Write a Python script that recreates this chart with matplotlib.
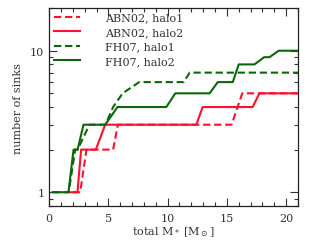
import matplotlib
matplotlib.use('Agg')
import matplotlib.pyplot as plt
from matplotlib.ticker import MultipleLocator, LogLocator, NullFormatter, FixedLocator, FixedFormatter

# step curves: total stellar mass vs number of sinks
abn_h1_x = [2.0, 2.62, 3.15, 5.4, 5.8, 15.4, 16.3, 21.0]
abn_h1_y = [1, 1, 2, 2, 3, 3, 5, 5]

abn_h2_x = [1.7, 2.39, 2.7, 3.94, 4.73, 12.42, 12.96, 17.18, 17.75, 21.0]
abn_h2_y = [1, 1, 2, 2, 3, 3, 4, 4, 5, 5]

fh_h1_x = [0.28, 1.65, 2.2, 2.4, 3.4, 4.75, 5.4, 6.2, 7.6, 11.36, 11.86, 21.0]
fh_h1_y = [1, 1, 2, 2, 3, 3, 4, 5, 6, 6, 7, 7]

fh_h2_x = [0.28, 1.63, 2.06, 2.4, 2.9, 4.73, 5.77, 9.89, 10.65, 13.55, 14.23,
           15.5, 16.0, 17.33, 18.15, 18.6, 19.38, 21.0]
fh_h2_y = [1, 1, 2, 2, 3, 3, 4, 4, 5, 5, 6, 6, 8, 8, 9, 9, 10, 10]

red = '#ff1030'
green = '#0d660d'
txt = '#333333'

plt.rcParams['font.family'] = 'DejaVu Serif'
fig = plt.figure(figsize=(3.11, 2.53), dpi=100)
ax = fig.add_axes([0.158, 0.182, 0.800, 0.782])

dash = (3.5, 1.8)
ax.plot(abn_h1_x, abn_h1_y, color=red, lw=1.5, dashes=dash, label='ABN02, halo1')
ax.plot(abn_h2_x, abn_h2_y, color=red, lw=1.5, label='ABN02, halo2')
ax.plot(fh_h1_x, fh_h1_y, color=green, lw=1.5, dashes=dash, label='FH07, halo1')
ax.plot(fh_h2_x, fh_h2_y, color=green, lw=1.5, label='FH07, halo2')

ax.set_yscale('log')
ax.set_xlim(0, 21)
ax.set_ylim(0.8, 20)

ax.xaxis.set_major_locator(MultipleLocator(5))
ax.xaxis.set_minor_locator(MultipleLocator(1))
ax.yaxis.set_major_locator(FixedLocator([1, 10]))
ax.yaxis.set_major_formatter(FixedFormatter(['1', '10']))
ax.yaxis.set_minor_locator(LogLocator(base=10, subs=range(2, 10)))
ax.yaxis.set_minor_formatter(NullFormatter())

ax.tick_params(which='both', direction='in', top=True, right=True,
               labelsize=8, colors=txt, width=0.8)
ax.tick_params(which='major', length=6)
ax.tick_params(which='minor', length=3)
ax.tick_params(axis='x', pad=5)
for s in ax.spines.values():
    s.set_color('#222222')
    s.set_linewidth(0.9)

ax.set_xlabel(r'total M$_*$ [M$_\odot$]', fontsize=8, color=txt, labelpad=1)
ax.set_ylabel('number of sinks', fontsize=8, color=txt, labelpad=5)

leg = ax.legend(loc='upper left', frameon=False, fontsize=8, handlelength=2.4,
                handletextpad=2.2, labelspacing=0.4, borderaxespad=0.0)
for t in leg.get_texts():
    t.set_color(txt)

fig.savefig('out.png', dpi=100)
